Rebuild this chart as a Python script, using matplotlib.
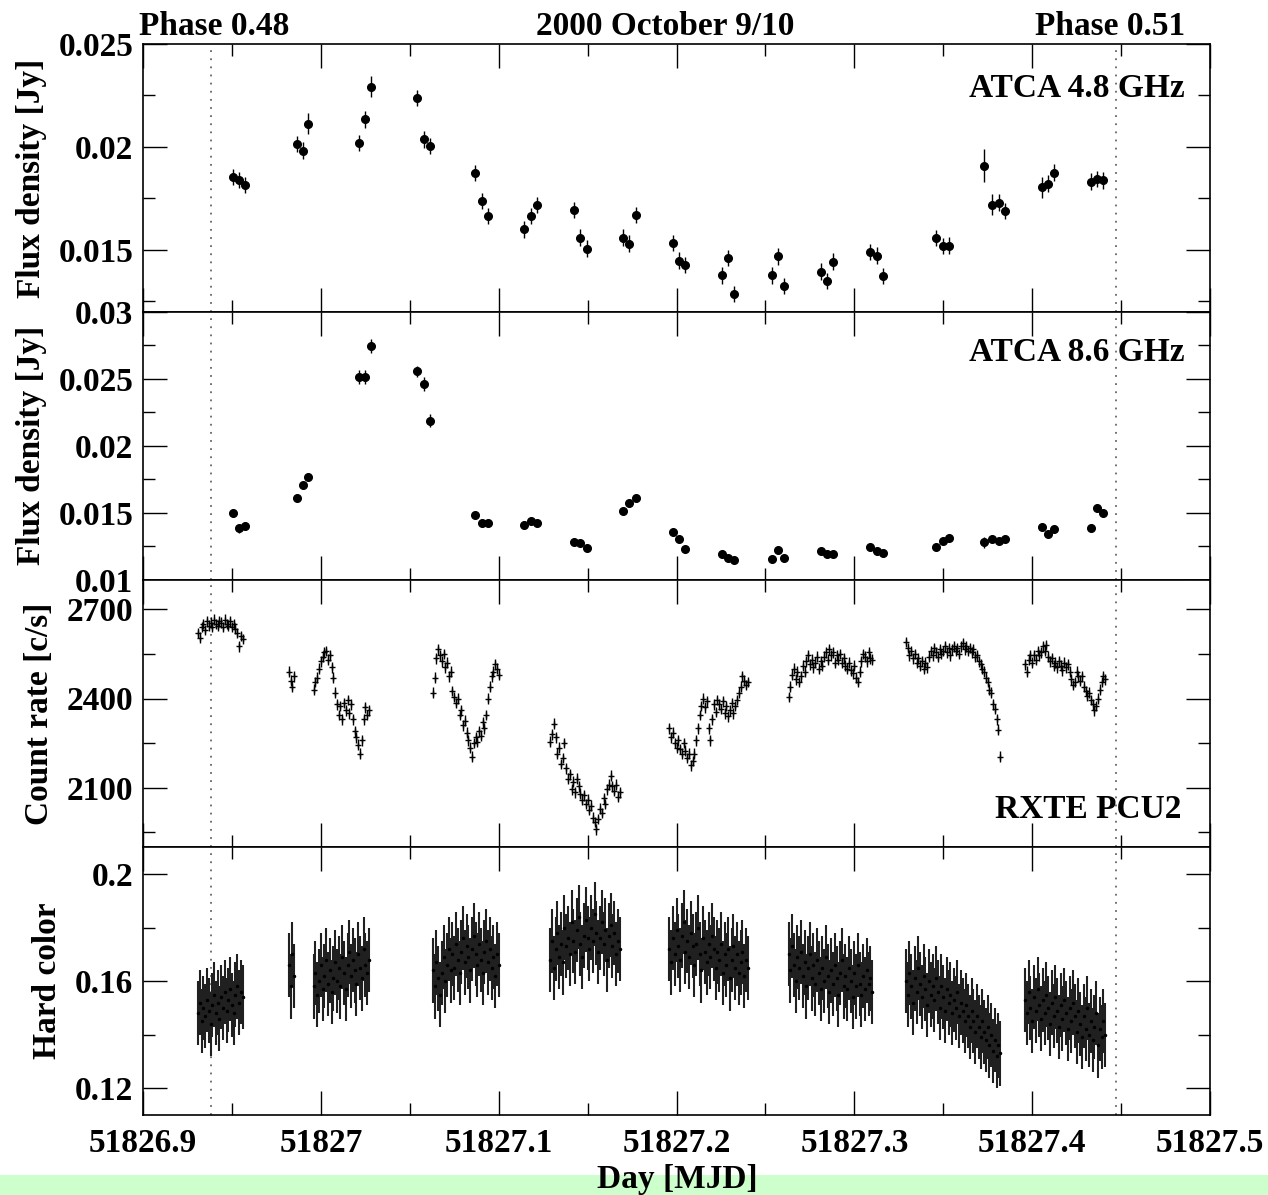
import numpy as np
import matplotlib
matplotlib.use('Agg')
import matplotlib.pyplot as plt
from matplotlib.ticker import MultipleLocator, FuncFormatter
from matplotlib.patches import Rectangle

plt.rcParams['font.family'] = ['Liberation Serif', 'DejaVu Serif']
plt.rcParams['font.weight'] = 'bold'
plt.rcParams['axes.labelweight'] = 'bold'
plt.rcParams['font.size'] = 24

# ---------------- Radio (ATCA) data ----------------
radio_mjd = [51826.9504, 51826.9539, 51826.9571, 51826.9864, 51826.9899, 51826.9929,
             51827.0216, 51827.0250, 51827.0284, 51827.0541, 51827.0578, 51827.0613,
             51827.0868, 51827.0904, 51827.0939, 51827.1145, 51827.1180, 51827.1214,
             51827.1425, 51827.1460, 51827.1494, 51827.1701, 51827.1735, 51827.1770,
             51827.1980, 51827.2014, 51827.2048, 51827.2257, 51827.2292, 51827.2326,
             51827.2535, 51827.2570, 51827.2604, 51827.2813, 51827.2847, 51827.2882,
             51827.3090, 51827.3125, 51827.3160, 51827.3462, 51827.3497, 51827.3531,
             51827.3731, 51827.3776, 51827.3811, 51827.3848, 51827.4054, 51827.4089,
             51827.4124, 51827.4332, 51827.4366, 51827.4401]

flux_48 = [0.01854, 0.01840, 0.01816, 0.02015, 0.01982, 0.02113,
           0.02019, 0.02134, 0.02293, 0.02238, 0.02037, 0.02006,
           0.01874, 0.01738, 0.01664, 0.01600, 0.01665, 0.01718,
           0.01693, 0.01560, 0.01506, 0.01560, 0.01531, 0.01671,
           0.01535, 0.01448, 0.01427, 0.01377, 0.01460, 0.01285,
           0.01377, 0.01469, 0.01324, 0.01395, 0.01350, 0.01443,
           0.01490, 0.01472, 0.01374, 0.01557, 0.01518, 0.01521,
           0.01909, 0.01720, 0.01730, 0.01688, 0.01804, 0.01822,
           0.01876, 0.01832, 0.01845, 0.01838]
err_48 = [0.0004, 0.0004, 0.0004, 0.0004, 0.0004, 0.0005,
          0.0004, 0.0004, 0.0005, 0.0004, 0.0004, 0.0004,
          0.0004, 0.0004, 0.0004, 0.0004, 0.0004, 0.0004,
          0.0004, 0.0004, 0.0004, 0.0004, 0.0004, 0.0004,
          0.0004, 0.0004, 0.0004, 0.0004, 0.0004, 0.0004,
          0.0004, 0.0004, 0.0004, 0.0004, 0.0004, 0.0004,
          0.0004, 0.0004, 0.0004, 0.0004, 0.0004, 0.0004,
          0.0008, 0.0005, 0.0004, 0.0004, 0.0005, 0.0004,
          0.0004, 0.0004, 0.0004, 0.0004]

flux_86 = [0.01498, 0.01381, 0.01403, 0.01607, 0.01709, 0.01769,
           0.02513, 0.02513, 0.02744, 0.02555, 0.02460, 0.02187,
           0.01485, 0.01421, 0.01425, 0.01408, 0.01436, 0.01423,
           0.01279, 0.01269, 0.01234, 0.01513, 0.01572, 0.01612,
           0.01358, 0.01299, 0.01229, 0.01187, 0.01164, 0.01147,
           0.01150, 0.01224, 0.01164, 0.01214, 0.01187, 0.01187,
           0.01244, 0.01212, 0.01199, 0.01246, 0.01289, 0.01309,
           0.01279, 0.01306, 0.01286, 0.01301, 0.01391, 0.01343,
           0.01378, 0.01383, 0.01535, 0.01498]
err_86 = [0.0003, 0.0003, 0.0003, 0.0003, 0.0003, 0.0003,
          0.0005, 0.0005, 0.0005, 0.0004, 0.0005, 0.0005,
          0.0003, 0.0002, 0.0002, 0.0003, 0.0002, 0.0002,
          0.0002, 0.0002, 0.0002, 0.0003, 0.0003, 0.0002,
          0.0002, 0.0002, 0.0002, 0.0002, 0.0002, 0.0002,
          0.0002, 0.0002, 0.0002, 0.0002, 0.0002, 0.0002,
          0.0002, 0.0002, 0.0002, 0.0002, 0.0002, 0.0002,
          0.0004, 0.0003, 0.0002, 0.0002, 0.0003, 0.0002,
          0.0002, 0.0003, 0.0003, 0.0003]

# ---------------- X-ray (RXTE PCU2) data ----------------
seg_start = [51826.931, 51826.982, 51826.996, 51827.063, 51827.129,
             51827.196, 51827.263, 51827.329, 51827.396]
bin_width = 0.001

rate_A = [2620, 2605, 2640, 2650, 2630, 2660, 2645, 2655, 2640, 2665, 2650, 2645, 2660,
          2655, 2640, 2665, 2650, 2645, 2660, 2640, 2650, 2635, 2620, 2575, 2610, 2600]
rate_B = [2490, 2460, 2440, 2475]
rate_C = [2430, 2455, 2470, 2500, 2525, 2540, 2555, 2560, 2530, 2545, 2505, 2470, 2420,
          2380, 2345, 2375, 2330, 2385, 2360, 2395, 2350, 2380, 2330, 2290, 2270, 2245,
          2215, 2260, 2330, 2370, 2345, 2360]
rate_D = [2420, 2470, 2535, 2565, 2545, 2525, 2550, 2505, 2520, 2475, 2490, 2425, 2405,
          2385, 2400, 2345, 2360, 2310, 2325, 2285, 2260, 2235, 2205, 2250, 2270, 2255,
          2290, 2275, 2320, 2300, 2345, 2400, 2440, 2475, 2490, 2515, 2500, 2480]
rate_E = [2255, 2280, 2315, 2270, 2215, 2235, 2180, 2200, 2250, 2165, 2130, 2145, 2095,
          2120, 2085, 2130, 2105, 2080, 2060, 2075, 2045, 2060, 2025, 2040, 2000, 1985,
          1960, 1995, 2030, 2015, 2065, 2045, 2095, 2110, 2140, 2105, 2090, 2110, 2070, 2085]
rate_F = [2300, 2270, 2285, 2250, 2235, 2260, 2230, 2215, 2250, 2225, 2200, 2215, 2175,
          2190, 2215, 2260, 2300, 2345, 2375, 2400, 2370, 2390, 2300, 2260, 2330, 2380,
          2355, 2395, 2380, 2365, 2390, 2350, 2375, 2340, 2360, 2385, 2350, 2375, 2395,
          2420, 2440, 2475, 2460, 2445, 2455]
rate_G = [2405, 2440, 2480, 2500, 2465, 2490, 2455, 2475, 2510, 2490, 2525, 2545, 2515,
          2530, 2505, 2520, 2540, 2500, 2525, 2510, 2540, 2555, 2530, 2565, 2545, 2555,
          2520, 2545, 2530, 2550, 2520, 2535, 2510, 2500, 2520, 2495, 2485, 2510, 2470,
          2455, 2490, 2525, 2550, 2540, 2525, 2555, 2535, 2530]
rate_H = [2590, 2570, 2545, 2560, 2535, 2550, 2520, 2535, 2510, 2525, 2500, 2520, 2505,
          2540, 2560, 2545, 2570, 2555, 2540, 2565, 2550, 2560, 2575, 2555, 2570, 2545,
          2565, 2575, 2560, 2570, 2550, 2575, 2585, 2565, 2575, 2560, 2570, 2555, 2565,
          2540, 2545, 2525, 2515, 2500, 2490, 2470, 2455, 2430, 2420, 2380, 2365, 2330,
          2295, 2205]
rate_I = [2515, 2490, 2530, 2545, 2520, 2545, 2530, 2560, 2545, 2555, 2575, 2560, 2580,
          2540, 2525, 2535, 2510, 2520, 2505, 2525, 2510, 2495, 2520, 2505, 2515, 2490,
          2465, 2445, 2455, 2490, 2475, 2460, 2475, 2440, 2425, 2410, 2420, 2395, 2380,
          2360, 2375, 2400, 2430, 2455, 2475, 2465]

hc_A = [0.148, 0.152, 0.145, 0.150, 0.147, 0.153, 0.149, 0.144, 0.151, 0.155, 0.148, 0.152,
        0.146, 0.154, 0.150, 0.156, 0.149, 0.153, 0.157, 0.151, 0.148, 0.155, 0.158, 0.152,
        0.156, 0.154]
hc_B = [0.166, 0.158, 0.170, 0.162]
hc_C = [0.158, 0.163, 0.155, 0.160, 0.166, 0.157, 0.162, 0.168, 0.159, 0.164, 0.156, 0.161,
        0.167, 0.160, 0.165, 0.158, 0.169, 0.163, 0.157, 0.166, 0.171, 0.162, 0.168, 0.164,
        0.159, 0.170, 0.165, 0.161, 0.172, 0.166, 0.163, 0.168]
hc_D = [0.164, 0.158, 0.167, 0.161, 0.155, 0.163, 0.169, 0.160, 0.166, 0.172, 0.164, 0.170,
        0.165, 0.174, 0.168, 0.163, 0.171, 0.176, 0.167, 0.173, 0.169, 0.164, 0.172, 0.177,
        0.170, 0.166, 0.174, 0.168, 0.163, 0.171, 0.175, 0.167, 0.172, 0.165, 0.169, 0.162,
        0.170, 0.166]
hc_E = [0.168, 0.175, 0.165, 0.172, 0.178, 0.169, 0.174, 0.167, 0.180, 0.173, 0.176, 0.170,
        0.182, 0.175, 0.171, 0.179, 0.184, 0.174, 0.169, 0.177, 0.183, 0.176, 0.172, 0.180,
        0.175, 0.185, 0.178, 0.171, 0.176, 0.182, 0.174, 0.179, 0.168, 0.177, 0.181, 0.173,
        0.178, 0.170, 0.175, 0.172]
hc_F = [0.172, 0.167, 0.176, 0.170, 0.179, 0.173, 0.168, 0.177, 0.182, 0.171, 0.175, 0.169,
        0.178, 0.173, 0.166, 0.174, 0.180, 0.170, 0.164, 0.176, 0.171, 0.167, 0.174, 0.169,
        0.177, 0.172, 0.165, 0.171, 0.168, 0.174, 0.163, 0.170, 0.166, 0.172, 0.161, 0.168,
        0.173, 0.165, 0.170, 0.163, 0.167, 0.171, 0.162, 0.168, 0.165]
hc_G = [0.170, 0.164, 0.173, 0.166, 0.160, 0.169, 0.165, 0.171, 0.162, 0.167, 0.158, 0.165,
        0.170, 0.161, 0.166, 0.159, 0.168, 0.163, 0.157, 0.165, 0.160, 0.169, 0.162, 0.156,
        0.164, 0.159, 0.166, 0.161, 0.155, 0.163, 0.168, 0.158, 0.162, 0.157, 0.165, 0.160,
        0.154, 0.163, 0.158, 0.166, 0.159, 0.155, 0.162, 0.157, 0.164, 0.159, 0.161, 0.156]
hc_H = [0.160, 0.155, 0.163, 0.158, 0.152, 0.161, 0.156, 0.165, 0.159, 0.154, 0.162, 0.157,
        0.151, 0.160, 0.155, 0.158, 0.153, 0.161, 0.156, 0.150, 0.158, 0.154, 0.149, 0.157,
        0.152, 0.155, 0.148, 0.153, 0.150, 0.156, 0.147, 0.152, 0.149, 0.145, 0.151, 0.147,
        0.143, 0.149, 0.145, 0.141, 0.147, 0.143, 0.139, 0.145, 0.141, 0.138, 0.143, 0.136,
        0.140, 0.134, 0.138, 0.132, 0.136, 0.133]
hc_I = [0.153, 0.148, 0.156, 0.150, 0.145, 0.154, 0.149, 0.157, 0.151, 0.146, 0.153, 0.148,
        0.155, 0.150, 0.144, 0.152, 0.147, 0.154, 0.149, 0.143, 0.151, 0.146, 0.153, 0.148,
        0.142, 0.150, 0.145, 0.152, 0.147, 0.141, 0.149, 0.144, 0.139, 0.147, 0.142, 0.150,
        0.140, 0.145, 0.138, 0.143, 0.148, 0.136, 0.142, 0.139, 0.145, 0.140]

rate_segments = [rate_A, rate_B, rate_C, rate_D, rate_E, rate_F, rate_G, rate_H, rate_I]
hc_segments = [hc_A, hc_B, hc_C, hc_D, hc_E, hc_F, hc_G, hc_H, hc_I]
rate_err = 18.0
hc_err = 0.012

phase_mjd = [51826.938, 51827.447]

# ---------------- Figure ----------------
W, H = 1268, 1195
fig = plt.figure(figsize=(W / 100, H / 100), dpi=100)
left, right = 143 / W, 1210 / W
top, bottom = 1 - 44 / H, 1 - 1115 / H
gs = fig.add_gridspec(4, 1, left=left, right=right, top=top, bottom=bottom, hspace=0)
axes = [fig.add_subplot(gs[i]) for i in range(4)]
for a in axes[1:]:
    a.sharex(axes[0])

fmt = FuncFormatter(lambda v, p: '%g' % round(v, 6))

for ax in axes:
    ax.set_xlim(51826.9, 51827.5)
    ax.xaxis.set_major_locator(MultipleLocator(0.1))
    ax.xaxis.set_minor_locator(MultipleLocator(0.05))
    ax.tick_params(which='major', direction='in', length=17, width=1.0,
                   top=True, right=True, labelsize=24, pad=7)
    ax.tick_params(which='minor', direction='in', length=8.5, width=1.0,
                   top=True, right=True)
    ax.yaxis.set_major_formatter(fmt)
    ax.xaxis.set_major_formatter(fmt)
    for s in ax.spines.values():
        s.set_linewidth(1.2)
    for xm in phase_mjd:
        ax.axvline(xm, color='#666666', lw=1.3, ls=(0, (1, 3.5)), zorder=1)
    if ax is not axes[-1]:
        ax.tick_params(labelbottom=False)

# Panel 1: ATCA 4.8 GHz
ax = axes[0]
ax.errorbar(radio_mjd, flux_48, yerr=err_48, fmt='o', ms=5.5, color='black',
            elinewidth=1.0, capsize=0, zorder=3)
ax.set_ylim(0.012, 0.025)
ax.yaxis.set_major_locator(MultipleLocator(0.005))
ax.yaxis.set_minor_locator(MultipleLocator(0.0025))
ax.set_ylabel('Flux density [Jy]', fontsize=24, fontweight='bold')
ax.yaxis.set_label_coords((47 - 143) / 1067, 0.5)

# Panel 2: ATCA 8.6 GHz
ax = axes[1]
ax.errorbar(radio_mjd, flux_86, yerr=err_86, fmt='o', ms=5.5, color='black',
            elinewidth=1.0, capsize=0, zorder=3)
ax.set_ylim(0.01, 0.03)
ax.yaxis.set_major_locator(MultipleLocator(0.005))
ax.yaxis.set_minor_locator(MultipleLocator(0.0025))
ax.set_ylabel('Flux density [Jy]', fontsize=24, fontweight='bold')
ax.yaxis.set_label_coords((47 - 143) / 1067, 0.5)

# Panel 3: count rate
ax = axes[2]
for t0, seg in zip(seg_start, rate_segments):
    t = t0 + bin_width * np.arange(len(seg))
    ax.errorbar(t, seg, yerr=rate_err, fmt='+', ms=5, mew=1.0, color='black',
                elinewidth=1.0, capsize=0, zorder=3)
ax.set_ylim(1900, 2800)
ax.yaxis.set_major_locator(MultipleLocator(300))
ax.yaxis.set_minor_locator(MultipleLocator(150))
ax.set_ylabel('Count rate [c/s]', fontsize=24, fontweight='bold')
ax.yaxis.set_label_coords((55 - 143) / 1067, 0.5)

# Panel 4: hard color
ax = axes[3]
for t0, seg in zip(seg_start, hc_segments):
    t = t0 + bin_width * np.arange(len(seg))
    ax.errorbar(t, seg, yerr=hc_err, fmt='.', ms=3, color='black', ecolor='#202020',
                elinewidth=1.5, capsize=0, zorder=3)
ax.set_ylim(0.11, 0.21)
ax.yaxis.set_major_locator(MultipleLocator(0.04))
ax.yaxis.set_minor_locator(MultipleLocator(0.02))
ax.set_ylabel('Hard color', fontsize=24, fontweight='bold')
ax.yaxis.set_label_coords((63 - 143) / 1067, 0.5)
ax.tick_params(axis='x', pad=9)


def fx(px):
    return px / W


def fy(py):
    return 1 - py / H


fig.text(fx(139), fy(35), 'Phase 0.48', ha='left', va='baseline', fontsize=24)
fig.text(fx(665), fy(35), '2000 October 9/10', ha='center', va='baseline', fontsize=24)
fig.text(fx(1185), fy(35), 'Phase 0.51', ha='right', va='baseline', fontsize=24)
fig.text(fx(1185), fy(97), 'ATCA 4.8 GHz', ha='right', va='baseline', fontsize=24)
fig.text(fx(1185), fy(361), 'ATCA 8.6 GHz', ha='right', va='baseline', fontsize=24)
fig.text(fx(1181), fy(818), 'RXTE PCU2', ha='right', va='baseline', fontsize=24)
fig.text(fx(677), fy(1188), 'Day [MJD]', ha='center', va='baseline', fontsize=24)

fig.patches.append(Rectangle((0, 0), 1, 20 / H, transform=fig.transFigure,
                             facecolor='#ccffcc', edgecolor='none', zorder=-1))

fig.savefig('out.png', dpi=100)
